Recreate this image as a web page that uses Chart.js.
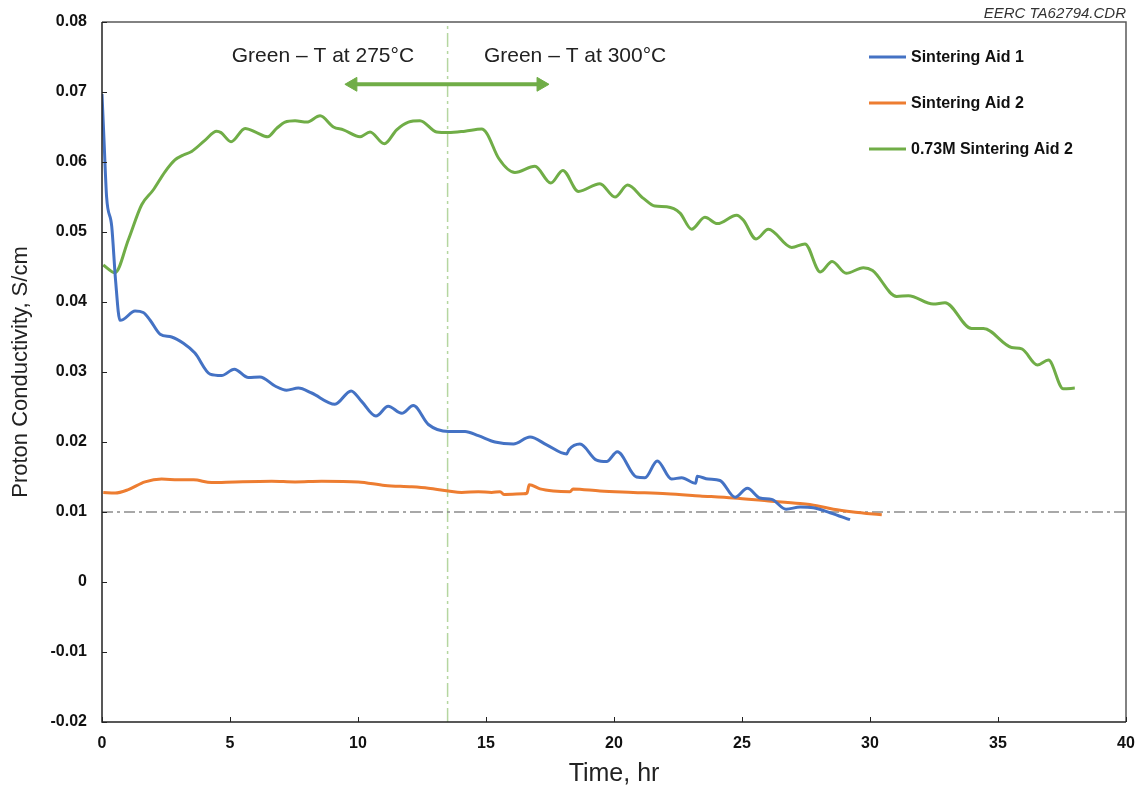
<!DOCTYPE html>
<html>
<head>
<meta charset="utf-8">
<script src="https://cdn.jsdelivr.net/npm/chart.js@4.4.0/dist/chart.umd.min.js"></script>
<style>
  body { margin: 0; background: #fff; }
</style>
</head>
<body>
<canvas id="chart" width="1139" height="789"></canvas>
<script>
// series (time in hr, conductivity in S/cm)
const blueTime = [0, 0.08, 0.18, 0.38, 0.53, 0.7, 0.83, 1.29, 1.61, 1.88, 2.27, 2.72, 3.18, 3.63, 4.22, 4.67, 5.17, 5.72, 6.17, 6.76, 7.21, 7.67, 8.19, 9.1, 9.73, 10.14, 10.7, 11.18, 11.71, 12.16, 12.75, 13.53, 14.18, 14.7, 15.35, 16.07, 16.72, 17.37, 18.15, 18.24, 18.67, 19.32, 19.71, 20.13, 20.88, 21.21, 21.69, 22.25, 22.64, 23.19, 23.25, 23.68, 24.14, 24.73, 25.21, 25.7, 26.16, 26.72, 27.27, 27.79, 28.44, 29.22];
const blueValues = [0.0697, 0.063, 0.055, 0.0508, 0.0431, 0.0374, 0.0375, 0.0387, 0.0385, 0.0374, 0.0354, 0.035, 0.0341, 0.0327, 0.0297, 0.0295, 0.0304, 0.0292, 0.0293, 0.028, 0.0274, 0.0277, 0.027, 0.0254, 0.0273, 0.0258, 0.0237, 0.0251, 0.0241, 0.0252, 0.0225, 0.0215, 0.0215, 0.0209, 0.02, 0.0197, 0.0207, 0.0196, 0.0183, 0.0189, 0.0197, 0.0174, 0.0172, 0.0186, 0.015, 0.0149, 0.0173, 0.0147, 0.0149, 0.0141, 0.0151, 0.0147, 0.0145, 0.0121, 0.0134, 0.012, 0.0118, 0.0104, 0.0107, 0.0106, 0.0099, 0.0089];

const orangeTime = [0.05, 0.51, 1.03, 1.68, 2.33, 2.98, 3.57, 4.28, 5.2, 6.63, 7.54, 8.58, 10.01, 11.05, 12.1, 12.75, 13.53, 14.05, 14.7, 15.22, 15.55, 15.7, 16.46, 16.6, 16.69, 17.11, 17.63, 18.28, 18.4, 19.45, 20.75, 22.06, 23.36, 24.66, 25.96, 27.27, 27.92, 28.57, 29.35, 29.87, 30.46];
const orangeValues = [0.0128, 0.0127, 0.0132, 0.0143, 0.0147, 0.0146, 0.0146, 0.0142, 0.0143, 0.0144, 0.0143, 0.0144, 0.0143, 0.0138, 0.0136, 0.0134, 0.013, 0.0128, 0.0129, 0.0128, 0.0129, 0.0125, 0.0126, 0.0127, 0.0139, 0.0133, 0.013, 0.0129, 0.0133, 0.013, 0.0128, 0.0126, 0.0123, 0.012, 0.0116, 0.0112, 0.0109, 0.0104, 0.01, 0.0098, 0.0096];

const greenTime = [0.05, 0.51, 1.03, 1.55, 2.0, 2.46, 2.85, 3.18, 3.5, 4.02, 4.48, 4.65, 5.04, 5.59, 6.04, 6.47, 6.82, 7.15, 7.54, 8.0, 8.52, 9.04, 9.43, 10.08, 10.47, 11.03, 11.51, 11.97, 12.42, 13.07, 13.53, 14.18, 14.83, 15.03, 15.5, 16.13, 16.91, 17.53, 18.0, 18.61, 19.45, 20.04, 20.53, 21.15, 21.6, 22.06, 22.58, 23.03, 23.55, 24.04, 24.79, 25.05, 25.55, 26.03, 26.94, 27.46, 28.06, 28.52, 29.07, 29.74, 30.1, 31.04, 31.5, 32.47, 32.93, 33.97, 34.43, 35.53, 35.93, 36.54, 36.97, 37.55, 38.0];
const greenValues = [0.0453, 0.0442, 0.0489, 0.0539, 0.056, 0.0586, 0.0603, 0.061, 0.0615, 0.0631, 0.0644, 0.0642, 0.0629, 0.0648, 0.0642, 0.0636, 0.0648, 0.0657, 0.0659, 0.0657, 0.0666, 0.065, 0.0646, 0.0636, 0.0643, 0.0626, 0.0646, 0.0657, 0.0659, 0.0643, 0.0642, 0.0644, 0.0647, 0.0641, 0.0605, 0.0585, 0.0594, 0.057, 0.0588, 0.0558, 0.0569, 0.055, 0.0567, 0.0548, 0.0537, 0.0536, 0.0527, 0.0504, 0.0521, 0.0512, 0.0524, 0.0517, 0.049, 0.0504, 0.0478, 0.0483, 0.0443, 0.0458, 0.0441, 0.0449, 0.0445, 0.0408, 0.0409, 0.0397, 0.0399, 0.0362, 0.0362, 0.0335, 0.0333, 0.031, 0.0317, 0.0276, 0.0277];

const seriesLabels = ["Sintering Aid 1", "Sintering Aid 2", "0.73M Sintering Aid 2"];
const seriesColors = ["#4472C4", "#ED7D31", "#70AD47"];

// reference lines and annotation
const thresholdValue = 0.01;
const switchTime = 13.5;
const arrowTime = [9.8, 17.15];
const arrowValue = 0.0711;
const noteTexts = ["Green \u2013 T at 275\u00B0C", "Green \u2013 T at 300\u00B0C"];
const noteTime = [8.63, 18.48];
const noteValue = 0.0751;

const xTicks = [0, 5, 10, 15, 20, 25, 30, 35, 40];
const yTicks = [-0.02, -0.01, 0, 0.01, 0.02, 0.03, 0.04, 0.05, 0.06, 0.07, 0.08];

const FONT = "'Liberation Sans', Arial, sans-serif";

function toPoints(xs, ys) {
  return xs.map((x, i) => ({ x: x, y: ys[i] }));
}

const extras = {
  id: "extras",
  afterDraw(chart) {
    const { ctx, chartArea: a, scales: { x, y } } = chart;
    ctx.save();
    // frame
    ctx.lineWidth = 1.5;
    ctx.strokeStyle = "#595959";
    ctx.beginPath();
    ctx.moveTo(a.left, a.top);
    ctx.lineTo(a.right, a.top);
    ctx.lineTo(a.right, a.bottom);
    ctx.stroke();
    ctx.strokeStyle = "#222";
    ctx.beginPath();
    ctx.moveTo(a.left, a.top);
    ctx.lineTo(a.left, a.bottom);
    ctx.lineTo(a.right, a.bottom);
    ctx.stroke();
    // inside ticks
    ctx.lineWidth = 1;
    ctx.beginPath();
    y.ticks.forEach(t => {
      const py = Math.round(y.getPixelForValue(t.value)) + 0.5;
      ctx.moveTo(a.left, py);
      ctx.lineTo(a.left + 5, py);
    });
    x.ticks.forEach(t => {
      const px = Math.round(x.getPixelForValue(t.value)) + 0.5;
      ctx.moveTo(px, a.bottom);
      ctx.lineTo(px, a.bottom - 5);
    });
    ctx.stroke();

    // annotation texts
    ctx.fillStyle = "#222";
    ctx.font = "21px " + FONT;
    ctx.textAlign = "center";
    ctx.textBaseline = "middle";
    noteTexts.forEach((txt, i) => {
      ctx.fillText(txt, x.getPixelForValue(noteTime[i]), y.getPixelForValue(noteValue));
    });

    // legend inside plot
    ctx.font = "bold 16px " + FONT;
    ctx.textAlign = "left";
    ctx.lineWidth = 3;
    seriesLabels.forEach((lab, i) => {
      const ly = a.top + 35 + i * 46;
      ctx.strokeStyle = seriesColors[i];
      ctx.beginPath();
      ctx.moveTo(a.left + 767, ly);
      ctx.lineTo(a.left + 804, ly);
      ctx.stroke();
      ctx.fillStyle = "#111";
      ctx.fillText(lab, a.left + 809, ly + 1);
    });

    // drawing id
    ctx.font = "italic 15px " + FONT;
    ctx.textAlign = "right";
    ctx.textBaseline = "bottom";
    ctx.fillStyle = "#333";
    ctx.fillText("EERC TA62794.CDR", a.right, a.top - 1);
    ctx.restore();
  }
};

const ctx = document.getElementById("chart").getContext("2d");
new Chart(ctx, {
  type: "scatter",
  data: {
    datasets: [
      {
        label: "threshold",
        data: toPoints([0, 40], [thresholdValue, thresholdValue]),
        borderColor: "#8c8c8c",
        borderWidth: 1.5,
        borderDash: [11, 4, 3, 4],
        showLine: true,
        pointRadius: 0,
        order: 5
      },
      {
        label: "switch",
        data: toPoints([switchTime, switchTime], [-0.02, 0.08]),
        borderColor: "#B5D6A0",
        borderWidth: 1.5,
        borderDash: [14, 4, 3, 4],
        showLine: true,
        pointRadius: 0,
        order: 5
      },
      {
        label: "arrow",
        data: toPoints(arrowTime, [arrowValue, arrowValue]),
        borderColor: "#70AD47",
        backgroundColor: "#70AD47",
        borderWidth: 4,
        showLine: true,
        pointStyle: "triangle",
        pointRadius: 8,
        pointRotation: [270, 90],
        pointBorderWidth: 1,
        order: 4
      },
      {
        label: seriesLabels[0],
        data: toPoints(blueTime, blueValues),
        borderColor: seriesColors[0],
        borderWidth: 3,
        showLine: true,
        pointRadius: 0,
        cubicInterpolationMode: "monotone",
        order: 1
      },
      {
        label: seriesLabels[1],
        data: toPoints(orangeTime, orangeValues),
        borderColor: seriesColors[1],
        borderWidth: 3,
        showLine: true,
        pointRadius: 0,
        cubicInterpolationMode: "monotone",
        order: 2
      },
      {
        label: seriesLabels[2],
        data: toPoints(greenTime, greenValues),
        borderColor: seriesColors[2],
        borderWidth: 3,
        showLine: true,
        pointRadius: 0,
        cubicInterpolationMode: "monotone",
        order: 3
      }
    ]
  },
  options: {
    responsive: false,
    animation: false,
    layout: { padding: { top: 22, right: 13, left: 0, bottom: 0 } },
    plugins: {
      legend: { display: false },
      tooltip: { enabled: false }
    },
    scales: {
      x: {
        type: "linear",
        min: 0,
        max: 40,
        afterBuildTicks: s => { s.ticks = xTicks.map(v => ({ value: v })); },
        afterFit: s => { s.height = 67; s.paddingLeft = 0; s.paddingRight = 0; },
        grid: { display: false, drawTicks: false },
        border: { display: false },
        ticks: {
          padding: 12,
          color: "#111",
          font: { family: FONT, size: 16, weight: "bold" },
          maxRotation: 0
        },
        title: {
          display: true,
          text: "Time, hr",
          color: "#222",
          padding: { bottom: 0 },
          font: { family: FONT, size: 25 }
        }
      },
      y: {
        type: "linear",
        min: -0.02,
        max: 0.08,
        afterBuildTicks: s => { s.ticks = yTicks.map(v => ({ value: v })); },
        afterFit: s => { s.width = 102; s.paddingTop = 0; s.paddingBottom = 0; },
        grid: { display: false, drawTicks: false },
        border: { display: false },
        ticks: {
          padding: 15,
          color: "#111",
          font: { family: FONT, size: 16, weight: "bold" },
          callback: v => String(Number(v.toFixed(2)))
        },
        title: {
          display: true,
          text: "Proton Conductivity, S/cm",
          color: "#222",
          padding: { top: 8 },
          font: { family: FONT, size: 22 }
        }
      }
    }
  },
  plugins: [extras]
});
</script>
</body>
</html>
